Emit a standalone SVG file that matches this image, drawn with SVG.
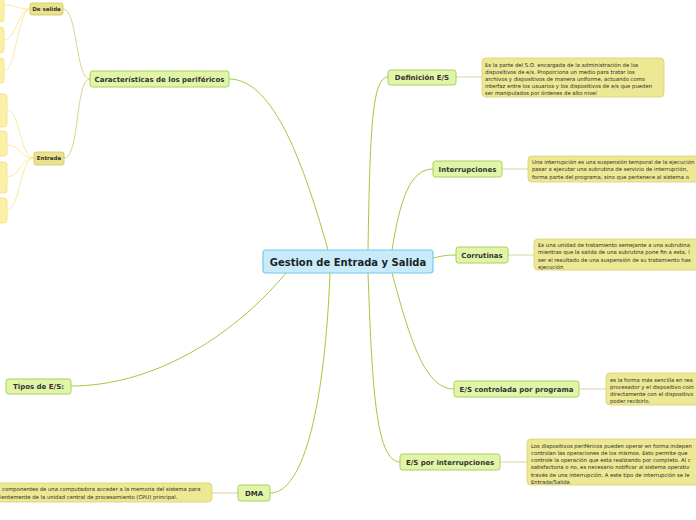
<svg xmlns="http://www.w3.org/2000/svg" width="696" height="520" viewBox="0 0 696 520">
<style>
.bg{fill:#ffffff}
.main rect{fill:#e1f5a9;stroke:#a9d05a;stroke-width:1}
.main text{font-family:"DejaVu Sans",Verdana,sans-serif;font-weight:bold;font-size:7px;fill:#333333;text-anchor:middle}
.note rect{fill:#ede894;stroke:#d8d06c;stroke-width:0.8}
.note text{font-family:"DejaVu Sans",Verdana,sans-serif;font-size:5.3px;fill:#2a2a2a}
.sub rect{fill:#ebe38c;stroke:#cfc460;stroke-width:0.8}
.sub text{font-family:"DejaVu Sans",Verdana,sans-serif;font-weight:bold;font-size:5.5px;fill:#333333;text-anchor:middle}
.leaf rect{fill:#fcefa6;stroke:#f5e080;stroke-width:0.8}
.c-green{fill:none;stroke:#a3c93e;stroke-width:1}
.c-note{fill:none;stroke:#deddb0;stroke-width:1.2}
.c-khaki{fill:none;stroke:#ddd68a;stroke-width:1}
.c-leaf{fill:none;stroke:#fbeb9c;stroke-width:1}
</style>
<rect class="bg" x="0" y="0" width="696" height="520"/>

<g id="connectors">
  <path class="c-green" d="M368 250 C 370 130, 372 77, 388 77"/>
  <path class="c-green" d="M392 250 C 400 200, 410 169, 433 169"/>
  <path class="c-green" d="M433 258 C 442 256, 446 255, 456 255"/>
  <path class="c-green" d="M392 273 C 410 340, 425 389, 454 389"/>
  <path class="c-green" d="M368 273 C 372 380, 375 462, 400 462"/>
  <path class="c-green" d="M330 273 C 325 400, 305 493, 270 493"/>
  <path class="c-green" d="M286 273 C 230 340, 150 386, 71 386"/>
  <path class="c-green" d="M328 250 C 300 150, 270 79, 229 79"/>
  <path class="c-note" d="M456 77 L 482 77"/>
  <path class="c-note" d="M502 169 L 528 169"/>
  <path class="c-note" d="M508 255 L 534 255"/>
  <path class="c-note" d="M579 389 L 606 389"/>
  <path class="c-note" d="M500 462 L 527 462"/>
  <path class="c-note" d="M212 493 L 238 493"/>
  <path class="c-khaki" d="M90 79 C 75 79, 78 9, 63 9"/>
  <path class="c-khaki" d="M90 79 C 75 79, 80 158, 64 158"/>
  <path class="c-leaf" d="M30 9 C 18 9, 16 5, 4 5"/>
  <path class="c-leaf" d="M30 9 C 18 9, 16 40, 4 40"/>
  <path class="c-leaf" d="M30 9 C 18 9, 16 71, 4 71"/>
  <path class="c-leaf" d="M34 158 C 20 158, 20 110, 7 110"/>
  <path class="c-leaf" d="M34 158 C 20 158, 20 145, 7 145"/>
  <path class="c-leaf" d="M34 158 C 20 158, 20 177, 7 177"/>
  <path class="c-leaf" d="M34 158 C 20 158, 20 210, 7 210"/>
</g>

<g id="center">
  <rect x="263" y="250" width="170" height="23" rx="3" fill="#c8ebfb" stroke="#7cc6ec" stroke-width="1.2"/>
  <text x="348" y="265.5" font-family="DejaVu Sans,Verdana,sans-serif" font-weight="bold" font-size="10px" fill="#222222" text-anchor="middle">Gestion de Entrada y Salida</text>
</g>

<g id="definicion" class="main">
  <rect x="388" y="70" width="68" height="15" rx="2.5"/>
  <text x="422" y="79.5">Definición E/S</text>
</g>
<g id="definicion-nota" class="note">
  <rect x="482" y="58" width="182" height="39" rx="4"/>
  <text x="485" y="66.5">Es la parte del S.O. encargada de la administración de los</text>
  <text x="485" y="73.8">dispositivos de e/s. Proporciona un medio para tratar los</text>
  <text x="485" y="81.1">archivos y dispositivos de manera uniforme, actuando como</text>
  <text x="485" y="88.4">interfaz entre los usuarios y los dispositivos de e/s que pueden</text>
  <text x="485" y="95.2">ser manipulados por órdenes de alto nivel</text>
</g>

<g id="interrupciones" class="main">
  <rect x="433" y="161" width="69" height="16" rx="2.5"/>
  <text x="467.5" y="171.5">Interrupciones</text>
</g>
<g id="interrupciones-nota" class="note">
  <rect x="528" y="156" width="180" height="26" rx="4"/>
  <text x="532" y="164">Una interrupción es una suspensión temporal de la ejecución</text>
  <text x="532" y="171.3">pasar a ejecutar una subrutina de servicio de interrupción,</text>
  <text x="532" y="178.6">forma parte del programa, sino que pertenece al sistema o</text>
</g>

<g id="corrutinas" class="main">
  <rect x="456" y="247" width="52" height="16" rx="2.5"/>
  <text x="482" y="257.5">Corrutinas</text>
</g>
<g id="corrutinas-nota" class="note">
  <rect x="534" y="239" width="175" height="31" rx="4"/>
  <text x="538" y="247">Es una unidad de tratamiento semejante a una subrutina</text>
  <text x="538" y="254.3">mientras que la salida de una subrutina pone fin a esta, l</text>
  <text x="538" y="261.6">ser el resultado de una suspensión de su tratamiento has</text>
  <text x="538" y="268.9">ejecución</text>
</g>

<g id="es-programa" class="main">
  <rect x="454" y="381" width="125" height="16" rx="2.5"/>
  <text x="516.5" y="391.5">E/S controlada por programa</text>
</g>
<g id="es-programa-nota" class="note">
  <rect x="606" y="373" width="100" height="32" rx="4"/>
  <text x="610" y="381.5">es la forma más sencilla en rea</text>
  <text x="610" y="388.8">procesador y el dispositivo coin</text>
  <text x="610" y="396.1">directamente con el dispositivo</text>
  <text x="610" y="403.2">poder recibirlo.</text>
</g>

<g id="es-interrupciones" class="main">
  <rect x="400" y="454" width="100" height="16" rx="2.5"/>
  <text x="450" y="464.5">E/S por interrupciones</text>
</g>
<g id="es-interrupciones-nota" class="note">
  <rect x="527" y="439" width="180" height="46" rx="4"/>
  <text x="531" y="447.5">Los dispositivos periféricos pueden operar en forma indepen</text>
  <text x="531" y="454.8">controlan las operaciones de los mismos. Esto permite que</text>
  <text x="531" y="462.1">controle la operación que esta realizando por completo. Al c</text>
  <text x="531" y="469.4">satisfactoria o no, es necesario notificar al sistema operativ</text>
  <text x="531" y="476.7">través de una interrupción. A este tipo de interrupción se le</text>
  <text x="531" y="483.5">Entrada/Salida</text>
</g>

<g id="dma" class="main">
  <rect x="238" y="485" width="32" height="16" rx="2.5"/>
  <text x="254" y="495.5">DMA</text>
</g>
<g id="dma-nota" class="note">
  <rect x="-10" y="483" width="222" height="19" rx="4"/>
  <text x="2" y="491">componentes de una computadora acceder a la memoria del sistema para</text>
  <text x="0" y="498.5">ientemente de la unidad central de procesamiento (CPU) principal.</text>
</g>

<g id="tipos" class="main">
  <rect x="6" y="379" width="65" height="15" rx="2.5"/>
  <text x="38.5" y="388.5">Tipos de E/S:</text>
</g>

<g id="caracteristicas" class="main">
  <rect x="90" y="71" width="139" height="16" rx="2.5"/>
  <text x="159.5" y="81.5">Características de los periféricos</text>
</g>

<g id="de-salida" class="sub">
  <rect x="30" y="3" width="33" height="12" rx="2"/>
  <text x="46.5" y="10.8">De salida</text>
</g>
<g id="entrada" class="sub">
  <rect x="34" y="152" width="30" height="13" rx="2"/>
  <text x="49" y="160.3">Entrada</text>
</g>

<g id="leaf-1" class="leaf"><rect x="-20" y="-5" width="24" height="27" rx="3"/></g>
<g id="leaf-2" class="leaf"><rect x="-20" y="27" width="24" height="26" rx="3"/></g>
<g id="leaf-3" class="leaf"><rect x="-20" y="58" width="24" height="25" rx="3"/></g>
<g id="leaf-4" class="leaf"><rect x="-20" y="94" width="27" height="33" rx="3"/></g>
<g id="leaf-5" class="leaf"><rect x="-20" y="131" width="27" height="25" rx="3"/></g>
<g id="leaf-6" class="leaf"><rect x="-20" y="162" width="27" height="31" rx="3"/></g>
<g id="leaf-7" class="leaf"><rect x="-20" y="198" width="27" height="25" rx="3"/></g>
</svg>
